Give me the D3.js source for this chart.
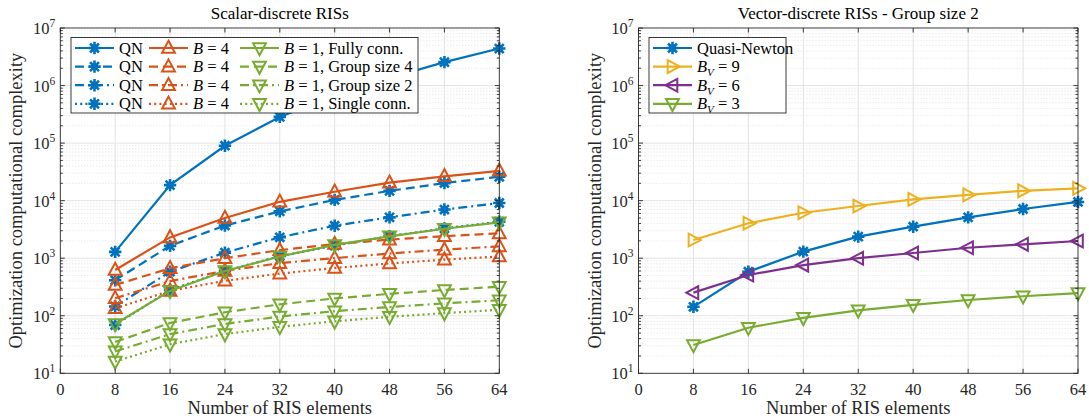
<!DOCTYPE html>
<html>
<head>
<meta charset="utf-8">
<script src="https://cdn.jsdelivr.net/npm/d3@7"></script>
<style>
  body { margin: 0; background: #fff; }
  svg { font-family: 'Liberation Serif', 'DejaVu Serif', serif; }
</style>
</head>
<body>
<div id="chart"></div>
<script>
'use strict'

const width = 1089,
  height = 419;

// data
const ris_elements = [8, 16, 24, 32, 40, 48, 56, 64];
const x_ticks = [0, 8, 16, 24, 32, 40, 48, 56, 64];
const y_decades = [1, 2, 3, 4, 5, 6, 7];

// scalar-discrete panel
const qn_full = [1290, 18600, 90000, 285000, 680000, 1350000, 2550000, 4400000];
const qn_group4 = [415, 1640, 3700, 6500, 10300, 14800, 20200, 26000];
const qn_group2 = [145, 582, 1250, 2310, 3670, 5130, 7000, 9100];
const qn_single = [69, 280, 600, 1090, 1650, 2420, 3300, 4300];
const b4_full = [624, 2300, 5000, 9550, 14300, 20500, 26500, 33000];
const b4_group4 = [342, 670, 1000, 1380, 1760, 2100, 2420, 2700];
const b4_group2 = [201, 400, 603, 820, 1005, 1206, 1407, 1608];
const b4_single = [135, 270, 405, 540, 675, 810, 945, 1070];
const b1_full = [72, 270, 600, 1070, 1700, 2400, 3250, 4200];
const b1_group4 = [35, 75, 115, 158, 200, 240, 280, 320];
const b1_group2 = [24, 48, 72, 97, 120, 142, 164, 186];
const b1_single = [16, 32, 48, 64, 80, 96, 111, 127];

// vector-discrete panel
const vec_qn = [143, 582, 1300, 2370, 3530, 5130, 7160, 9500];
const vec_b9 = [2070, 4040, 6170, 8070, 10500, 12600, 14800, 16400];
const vec_b6 = [252, 510, 760, 1000, 1230, 1520, 1740, 1990];
const vec_b3 = [31, 62, 92, 124, 155, 188, 218, 248];

const c_blue = '#0072BD',
  c_orange = '#D95319',
  c_yellow = '#EDB120',
  c_purple = '#7E2F8E',
  c_green = '#77AC30';

const dashes = {solid: null, dash: '9,5', dashdot: '9,4,2,4', dot: '2,3.2'};

const top_y = 28,
  bottom_y = 373.3;

let svg = d3.select('#chart')
  .append('svg')
  .attr('width', width)
  .attr('height', height);

// markers
function marker(sel, type, color) {
  if (type === 'star') {
    const r = 6.2, q = r * 0.72;
    sel.append('path')
      .attr('d', `M${-r},0L${r},0M0,${-r}L0,${r}M${-q},${-q}L${q},${q}M${-q},${q}L${q},${-q}`)
      .attr('stroke', color)
      .attr('stroke-width', 2.6)
      .attr('fill', 'none');
    sel.append('circle').attr('r', 3.4).attr('fill', color);
    return;
  }
  const pts = {
    up: [[0, -7.2], [6.4, 4.8], [-6.4, 4.8]],
    down: [[0, 7.2], [6.4, -4.8], [-6.4, -4.8]],
    right: [[7.2, 0], [-4.8, 6.4], [-4.8, -6.4]],
    left: [[-7.2, 0], [4.8, 6.4], [4.8, -6.4]]
  }[type];
  sel.append('path')
    .attr('d', 'M' + pts.map(p => p.join(',')).join('L') + 'Z')
    .attr('stroke', color)
    .attr('stroke-width', 2)
    .attr('stroke-linejoin', 'miter')
    .attr('fill', 'none');
}

function sup_label(sel, base, exp) {
  sel.append('tspan').text(base);
  sel.append('tspan').attr('dy', -7).attr('font-size', 11.5).text(exp);
}

function draw_panel(cfg) {
  let x = d3.scaleLinear()
    .domain([0, 64])
    .range([cfg.left, cfg.right]);
  let y = d3.scaleLog()
    .domain([10, 1e7])
    .range([bottom_y, top_y]);
  let g = svg.append('g');

  // grid
  let minors = [];
  y_decades.slice(0, -1).forEach(k => {
    for (let m = 2; m <= 9; m++) minors.push(m * Math.pow(10, k));
  });
  g.append('g').selectAll('line')
    .data(minors)
    .join('line')
    .attr('x1', cfg.left).attr('x2', cfg.right)
    .attr('y1', d => y(d)).attr('y2', d => y(d))
    .attr('stroke', '#d9d9d9')
    .attr('stroke-width', 0.8)
    .attr('stroke-dasharray', '1,2');
  g.append('g').selectAll('line')
    .data(y_decades.slice(1, -1))
    .join('line')
    .attr('x1', cfg.left).attr('x2', cfg.right)
    .attr('y1', d => y(Math.pow(10, d))).attr('y2', d => y(Math.pow(10, d)))
    .attr('stroke', '#e3e3e3')
    .attr('stroke-width', 1);
  g.append('g').selectAll('line')
    .data(x_ticks.slice(1, -1))
    .join('line')
    .attr('x1', d => x(d)).attr('x2', d => x(d))
    .attr('y1', top_y).attr('y2', bottom_y)
    .attr('stroke', '#e3e3e3')
    .attr('stroke-width', 1);

  // series
  let line = d3.line()
    .x(d => x(d[0]))
    .y(d => y(d[1]));
  cfg.series.forEach(s => {
    const pts = ris_elements.map((n, i) => [n, s.values[i]]);
    g.append('path')
      .datum(pts)
      .attr('d', line)
      .attr('fill', 'none')
      .attr('stroke', s.color)
      .attr('stroke-width', 2.2)
      .attr('stroke-dasharray', dashes[s.dash]);
    g.append('g').selectAll('g')
      .data(pts)
      .join('g')
      .attr('transform', d => `translate(${x(d[0])},${y(d[1])})`)
      .each(function() { marker(d3.select(this), s.marker, s.color); });
  });

  // box and ticks
  g.append('rect')
    .attr('x', cfg.left).attr('y', top_y)
    .attr('width', cfg.right - cfg.left)
    .attr('height', bottom_y - top_y)
    .attr('fill', 'none')
    .attr('stroke', '#262626')
    .attr('stroke-width', 0.9);
  let ticks = g.append('g')
    .attr('stroke', '#262626')
    .attr('stroke-width', 0.9);
  x_ticks.forEach(t => {
    ticks.append('line').attr('x1', x(t)).attr('x2', x(t))
      .attr('y1', bottom_y).attr('y2', bottom_y - 4.5);
    ticks.append('line').attr('x1', x(t)).attr('x2', x(t))
      .attr('y1', top_y).attr('y2', top_y + 4.5);
  });
  y_decades.forEach(k => {
    const yy = y(Math.pow(10, k));
    ticks.append('line').attr('x1', cfg.left).attr('x2', cfg.left + 4.5)
      .attr('y1', yy).attr('y2', yy);
    ticks.append('line').attr('x1', cfg.right).attr('x2', cfg.right - 4.5)
      .attr('y1', yy).attr('y2', yy);
  });
  minors.forEach(m => {
    ticks.append('line').attr('x1', cfg.left).attr('x2', cfg.left + 2.5)
      .attr('y1', y(m)).attr('y2', y(m));
    ticks.append('line').attr('x1', cfg.right).attr('x2', cfg.right - 2.5)
      .attr('y1', y(m)).attr('y2', y(m));
  });

  // tick labels
  g.append('g').selectAll('text')
    .data(x_ticks)
    .join('text')
    .attr('x', d => x(d))
    .attr('y', bottom_y + 22)
    .attr('text-anchor', 'middle')
    .attr('font-size', 16.5)
    .attr('fill', '#262626')
    .text(d => d);
  g.append('g').selectAll('text')
    .data(y_decades)
    .join('text')
    .attr('x', cfg.left - 5)
    .attr('y', d => y(Math.pow(10, d)) + 6)
    .attr('text-anchor', 'end')
    .attr('font-size', 16.5)
    .attr('fill', '#262626')
    .each(function(d) { sup_label(d3.select(this), '10', d); });

  // labels
  g.append('text')
    .attr('x', (cfg.left + cfg.right) / 2)
    .attr('y', 19)
    .attr('text-anchor', 'middle')
    .attr('font-size', 17)
    .attr('fill', '#000')
    .text(cfg.title);
  g.append('text')
    .attr('x', (cfg.left + cfg.right) / 2)
    .attr('y', 414)
    .attr('text-anchor', 'middle')
    .attr('font-size', 18.5)
    .attr('fill', '#262626')
    .text('Number of RIS elements');
  g.append('text')
    .attr('transform', `translate(${cfg.left - 38},${(top_y + bottom_y) / 2}) rotate(-90)`)
    .attr('text-anchor', 'middle')
    .attr('font-size', 18.5)
    .attr('fill', '#262626')
    .text('Optimization computational complexity');

  // legend
  let lg = g.append('g');
  lg.append('rect')
    .attr('x', cfg.legend.x).attr('y', cfg.legend.y)
    .attr('width', cfg.legend.w).attr('height', cfg.legend.h)
    .attr('fill', '#fff')
    .attr('stroke', '#262626')
    .attr('stroke-width', 0.9);
  cfg.series.forEach((s, i) => {
    const col = Math.floor(i / cfg.legend.rows),
      row = i % cfg.legend.rows;
    const x0 = cfg.legend.cols[col],
      yy = cfg.legend.y + 10.5 + row * 18.6;
    lg.append('line')
      .attr('x1', x0).attr('x2', x0 + 39)
      .attr('y1', yy).attr('y2', yy)
      .attr('stroke', s.color)
      .attr('stroke-width', 2.2)
      .attr('stroke-dasharray', dashes[s.dash]);
    lg.append('g')
      .attr('transform', `translate(${x0 + 19.5},${yy})`)
      .call(m => marker(m, s.marker, s.color));
    let t = lg.append('text')
      .attr('x', x0 + 44)
      .attr('y', yy + 5.5)
      .attr('font-size', 16.5)
      .attr('fill', '#000');
    s.label(t);
  });
}

function plain(str) {
  return t => t.text(str);
}
function b_label(val, rest) {
  return t => {
    t.append('tspan').attr('font-style', 'italic').text('B');
    t.append('tspan').text(` = ${val}${rest}`);
  };
}
function bv_label(val) {
  return t => {
    t.append('tspan').attr('font-style', 'italic').text('B');
    t.append('tspan').attr('font-style', 'italic').attr('font-size', 11).attr('dy', 4).text('V');
    t.append('tspan').attr('dy', -4).text(` = ${val}`);
  };
}

draw_panel({
  left: 60.3,
  right: 499.3,
  title: 'Scalar-discrete RISs',
  legend: {x: 71, y: 37.5, w: 347, h: 75.5, rows: 4, cols: [75, 149, 240]},
  series: [
    {values: qn_full, color: c_blue, dash: 'solid', marker: 'star', label: plain('QN')},
    {values: qn_group4, color: c_blue, dash: 'dash', marker: 'star', label: plain('QN')},
    {values: qn_group2, color: c_blue, dash: 'dashdot', marker: 'star', label: plain('QN')},
    {values: qn_single, color: c_blue, dash: 'dot', marker: 'star', label: plain('QN')},
    {values: b4_full, color: c_orange, dash: 'solid', marker: 'up', label: b_label(4, '')},
    {values: b4_group4, color: c_orange, dash: 'dash', marker: 'up', label: b_label(4, '')},
    {values: b4_group2, color: c_orange, dash: 'dashdot', marker: 'up', label: b_label(4, '')},
    {values: b4_single, color: c_orange, dash: 'dot', marker: 'up', label: b_label(4, '')},
    {values: b1_full, color: c_green, dash: 'solid', marker: 'down', label: b_label(1, ', Fully conn.')},
    {values: b1_group4, color: c_green, dash: 'dash', marker: 'down', label: b_label(1, ', Group size 4')},
    {values: b1_group2, color: c_green, dash: 'dashdot', marker: 'down', label: b_label(1, ', Group size 2')},
    {values: b1_single, color: c_green, dash: 'dot', marker: 'down', label: b_label(1, ', Single conn.')}
  ]
});

draw_panel({
  left: 638.5,
  right: 1078,
  title: 'Vector-discrete RISs - Group size 2',
  legend: {x: 649, y: 37.5, w: 137, h: 75.5, rows: 4, cols: [653]},
  series: [
    {values: vec_qn, color: c_blue, dash: 'solid', marker: 'star', label: plain('Quasi-Newton')},
    {values: vec_b9, color: c_yellow, dash: 'solid', marker: 'right', label: bv_label(9)},
    {values: vec_b6, color: c_purple, dash: 'solid', marker: 'left', label: bv_label(6)},
    {values: vec_b3, color: c_green, dash: 'solid', marker: 'down', label: bv_label(3)}
  ]
});
</script>
</body>
</html>
